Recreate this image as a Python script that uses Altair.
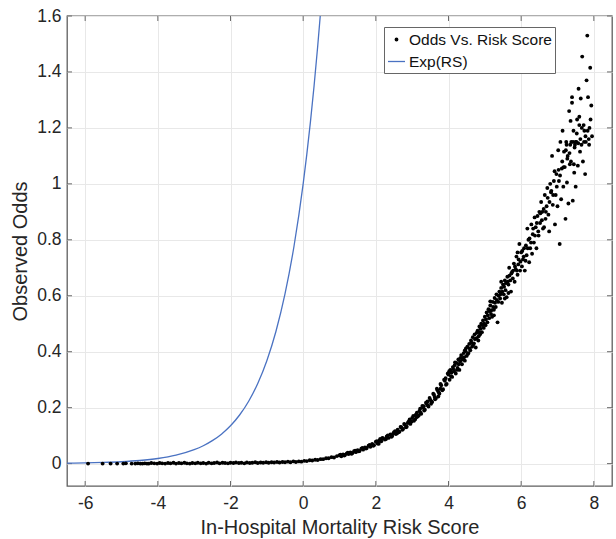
import altair as alt
import pandas as pd

# ---- data ----
odds_x = [
    -5.92, -5.52, -5.30, -5.12, -4.95, -4.88, -4.72, -4.62, -4.55, -4.48, -4.42, -4.36, -4.30,
    -4.25, -4.18, -4.10, -4.02, -3.95, -3.88, -3.80, -3.72, -3.65, -3.57, -3.50, -3.42, -3.35,
    -3.27, -3.20, -3.12, -3.05, -2.97, -2.90, -2.82, -2.75, -2.67, -2.60, -2.52, -2.45, -2.37,
    -2.30, -2.22, -2.15, -2.07, -2.00, -1.92, -1.85, -1.77, -1.70, -1.62, -1.55, -1.47, -1.40,
    -1.32, -1.25, -1.17, -1.10, -1.02, -0.95, -0.87, -0.80, -0.72, -0.65, -0.57, -0.50, -0.42,
    -0.35, -0.27, -0.20, -0.12, -0.05, 0.03, 0.10, 0.18, 0.25, 0.33, 0.40, 0.48, 0.55, 0.63,
    0.70, 0.78, 0.85, 0.93,
    1.00, 1.05, 1.10, 1.15, 1.20, 1.25, 1.30, 1.35, 1.40, 1.45, 1.50, 1.55, 1.60, 1.65, 1.70,
    1.75, 1.80, 1.85, 1.90, 1.95, 2.00, 2.05, 2.10, 2.15, 2.20, 2.25, 2.30, 2.35, 2.40, 2.45,
    2.50, 2.55, 2.60, 2.65, 2.70, 2.75, 2.80, 2.85, 2.90, 2.95, 3.00, 3.05, 3.10, 3.15, 3.20,
    3.25, 3.30, 3.35, 3.40, 3.45, 3.50, 3.55, 3.60, 3.65, 3.70, 3.75, 3.80, 3.85, 3.90, 3.95,
    2.12, 2.62, 2.88, 3.18, 3.42, 3.62, 3.78, 3.92, 3.22, 2.48,
    4.00, 4.03, 4.05, 4.08, 4.10, 4.12, 4.15, 4.17, 4.20, 4.22, 4.25, 4.27, 4.30, 4.32, 4.35,
    4.37, 4.40, 4.42, 4.45, 4.47, 4.50, 4.52, 4.55, 4.57, 4.60, 4.62, 4.65, 4.67, 4.70, 4.72,
    4.75, 4.77, 4.80, 4.82, 4.85, 4.87, 4.90, 4.92, 4.95, 4.97, 5.00, 5.02, 5.05, 5.07, 5.10,
    5.12, 5.15, 5.17, 5.20, 5.22, 5.25, 5.27, 5.30, 5.32, 5.35, 5.37, 5.40, 5.42, 5.45, 5.47,
    5.50, 5.52, 5.55, 5.57, 5.60, 5.62, 5.65, 5.67, 5.70, 5.72, 5.75, 5.77, 5.80, 5.82, 5.85,
    5.87, 5.90, 5.92, 5.95, 5.97,
    6.00, 6.02, 6.05, 6.08, 6.10, 6.13, 6.15, 6.17, 6.20, 6.22, 6.25, 6.28, 6.30, 6.32, 6.35,
    6.37, 6.40, 6.42, 6.45, 6.48, 6.50, 6.52, 6.55, 6.58, 6.60, 6.63, 6.65, 6.67, 6.70, 6.72,
    6.75, 6.77, 6.80, 6.82, 6.85, 6.87, 6.90, 6.93, 6.95, 6.97, 7.00, 7.02, 7.04, 7.06, 7.08,
    7.10, 7.12, 7.14, 7.16, 7.18, 7.20, 7.22, 7.24, 7.26, 7.28, 7.30, 7.32, 7.34, 7.36, 7.38,
    7.40, 7.42, 7.44, 7.46, 7.48, 7.50, 7.52, 7.54, 7.56, 7.58, 7.60, 7.62, 7.64, 7.66, 7.68,
    7.70, 7.72, 7.74, 7.76, 7.78, 7.80, 7.82, 7.84, 7.86, 7.88, 7.90, 7.93, 7.95, 7.60, 7.40,
    7.35, 7.25, 7.50,
]
odds_y = [
    0.000, 0.000, 0.000, 0.000, 0.000, 0.001, 0.000, 0.000, 0.001, 0.000, 0.000, 0.001, 0.000,
    0.000, 0.002, 0.001, 0.000, 0.002, 0.001, 0.000, 0.002, 0.001, 0.003, 0.000, 0.002, 0.001,
    0.003, 0.001, 0.000, 0.002, 0.001, 0.003, 0.001, 0.002, 0.000, 0.003, 0.001, 0.002, 0.004,
    0.001, 0.003, 0.002, 0.001, 0.003, 0.002, 0.004, 0.002, 0.003, 0.001, 0.004, 0.002, 0.003,
    0.005, 0.002, 0.004, 0.003, 0.005, 0.003, 0.005, 0.004, 0.006, 0.004, 0.006, 0.005, 0.007,
    0.005, 0.008, 0.006, 0.008, 0.007, 0.010, 0.009, 0.012, 0.011, 0.014, 0.013, 0.016, 0.016,
    0.019, 0.019, 0.023, 0.022, 0.027,
    0.030, 0.026, 0.033, 0.031, 0.036, 0.034, 0.040, 0.037, 0.044, 0.041, 0.048, 0.045, 0.053,
    0.050, 0.058, 0.056, 0.064, 0.060, 0.070, 0.066, 0.078, 0.072, 0.083, 0.080, 0.090, 0.086,
    0.097, 0.092, 0.104, 0.099, 0.112, 0.106, 0.121, 0.114, 0.130, 0.124, 0.139, 0.132, 0.150,
    0.142, 0.163, 0.153, 0.175, 0.168, 0.188, 0.178, 0.200, 0.193, 0.214, 0.204, 0.228, 0.220,
    0.246, 0.233, 0.262, 0.250, 0.280, 0.266, 0.296, 0.285,
    0.088, 0.112, 0.145, 0.172, 0.222, 0.238, 0.268, 0.305, 0.196, 0.108,
    0.318, 0.300, 0.335, 0.325, 0.310, 0.345, 0.330, 0.352, 0.322, 0.360, 0.342, 0.372, 0.335,
    0.365, 0.388, 0.355, 0.378, 0.395, 0.368, 0.402, 0.385, 0.418, 0.395, 0.428, 0.405, 0.440,
    0.418, 0.452, 0.430, 0.462, 0.415, 0.448, 0.475, 0.440, 0.490, 0.462, 0.500, 0.470, 0.512,
    0.485, 0.525, 0.495, 0.540, 0.505, 0.552, 0.520, 0.565, 0.535, 0.525, 0.578, 0.550, 0.592,
    0.560, 0.605, 0.505, 0.578, 0.615, 0.590, 0.628, 0.575, 0.640, 0.605, 0.655, 0.620, 0.595,
    0.668, 0.640, 0.700, 0.655, 0.615, 0.685, 0.662, 0.715, 0.650, 0.695, 0.740, 0.675, 0.712,
    0.785, 0.690,
    0.755, 0.705, 0.730, 0.770, 0.690, 0.780, 0.745, 0.840, 0.800, 0.720, 0.770, 0.855, 0.750,
    0.820, 0.790, 0.880, 0.845, 0.770, 0.885, 0.815, 0.900, 0.860, 0.935, 0.900, 0.840, 0.845,
    0.960, 0.875, 0.920, 0.985, 0.890, 0.830, 1.000, 0.970, 1.100, 0.925, 1.010, 0.855, 0.960,
    1.035, 0.920, 1.120, 1.010, 0.785, 1.150, 0.945, 1.055, 1.190, 0.990, 1.115, 1.060, 0.875,
    1.150, 1.005, 1.100, 0.930, 1.260, 1.070, 1.225, 1.150, 1.310, 0.940, 1.190, 1.040, 1.140,
    0.990, 1.150, 1.230, 1.065, 1.340, 1.240, 1.115, 1.305, 1.140, 1.455, 1.080, 1.210, 1.190,
    1.035, 1.150, 1.370, 1.530, 1.310, 1.160, 1.200, 1.415, 1.280, 1.170, 1.210, 1.290, 1.140,
    1.140, 1.150,
]
# second batch of points read from the denser parts of the cloud
extra_x = [
    1.03, 1.13, 1.23, 1.33, 1.43, 1.53, 1.63, 1.73, 1.83, 1.93, 2.03, 2.08, 2.18, 2.28, 2.33,
    2.43, 2.53, 2.58, 2.68, 2.73, 2.78, 2.83, 2.93, 2.98, 3.03, 3.08, 3.13, 3.23, 3.28, 3.33,
    3.38, 3.43, 3.48, 3.53, 3.58, 3.63, 3.68, 3.73, 3.78, 3.83, 3.88, 3.93, 3.98, 3.72, 3.52,
    3.32, 3.12,
    4.02, 4.07, 4.13, 4.18, 4.23, 4.28, 4.33, 4.38, 4.43, 4.48, 4.53, 4.58, 4.63, 4.68, 4.73,
    4.78, 4.83, 4.88, 4.93, 4.98, 5.03, 5.08, 5.13, 5.18, 5.23, 5.28, 5.33, 5.38, 5.43, 5.48,
    5.53, 5.58, 5.63, 5.68, 5.73, 5.78, 5.83, 5.88, 5.93, 5.98, 4.45, 4.85, 5.15, 5.45, 5.65,
    5.90, 5.55, 5.25,
    6.03, 6.07, 6.12, 6.18, 6.23, 6.27, 6.33, 6.38, 6.43, 6.47, 6.53, 6.57, 6.62, 6.68, 6.73,
    6.78, 6.83, 6.88, 6.92, 6.98, 7.03, 7.07, 7.13, 7.17, 7.23, 7.27, 7.33, 7.37, 7.43, 7.47,
    7.53, 7.57, 7.63, 7.67, 7.73, 7.77, 7.83, 7.87, 7.91, 7.45,
]
extra_y = [
    0.032, 0.029, 0.039, 0.035, 0.046, 0.044, 0.056, 0.054, 0.067, 0.064, 0.080, 0.071, 0.092,
    0.088, 0.101, 0.096, 0.116, 0.108, 0.131, 0.121, 0.142, 0.130, 0.158, 0.150, 0.170, 0.158,
    0.182, 0.182, 0.206, 0.190, 0.218, 0.208, 0.235, 0.222, 0.250, 0.230, 0.268, 0.255, 0.285,
    0.262, 0.300, 0.282, 0.322, 0.240, 0.214, 0.205, 0.166,
    0.330, 0.312, 0.338, 0.362, 0.335, 0.355, 0.378, 0.372, 0.380, 0.412, 0.392, 0.412, 0.432,
    0.425, 0.445, 0.468, 0.455, 0.482, 0.495, 0.500, 0.515, 0.530, 0.545, 0.548, 0.560, 0.575,
    0.585, 0.600, 0.605, 0.615, 0.632, 0.645, 0.650, 0.672, 0.680, 0.690, 0.705, 0.690, 0.730,
    0.722, 0.405, 0.470, 0.580, 0.650, 0.610, 0.755, 0.590, 0.530,
    0.760, 0.740, 0.725, 0.770, 0.805, 0.790, 0.840, 0.815, 0.860, 0.830, 0.895, 0.870, 0.910,
    0.900, 0.950, 0.935, 0.975, 0.960, 1.045, 0.990, 1.050, 1.030, 1.080, 1.060, 1.120, 1.090,
    1.110, 1.080, 1.150, 1.130, 1.180, 1.145, 1.160, 1.200, 1.150, 1.170, 1.190, 1.140, 1.230,
    1.070,
]
exp_x = [-6.5, -6.0, -5.5, -5.0, -4.5, -4.0, -3.5, -3.0, -2.75, -2.5, -2.25, -2.0, -1.75,
         -1.5, -1.25, -1.0, -0.75, -0.5, -0.25, 0.0, 0.1, 0.2, 0.3, 0.4, 0.47]
exp_y = [0.0015, 0.0025, 0.0041, 0.0067, 0.0111, 0.0183, 0.0302, 0.0498, 0.0639, 0.0821,
         0.1054, 0.1353, 0.1738, 0.2231, 0.2865, 0.3679, 0.4724, 0.6065, 0.7788, 1.0,
         1.1052, 1.2214, 1.3499, 1.4918, 1.6]
x_ticks = [-6, -4, -2, 0, 2, 4, 6, 8]
y_ticks = [0, 0.2, 0.4, 0.6, 0.8, 1, 1.2, 1.4, 1.6]
series = ["Odds Vs. Risk Score", "Exp(RS)"]

pts = pd.DataFrame({"rs": odds_x + extra_x, "odds": odds_y + extra_y, "series": series[0]})
ln = pd.DataFrame({"rs": exp_x, "odds": exp_y, "series": series[1]})
xt = pd.DataFrame({"rs": x_ticks})
yt = pd.DataFrame({"odds": y_ticks})

FONT = "Liberation Sans"
W, H = 545, 470
BLUE = "#4a72c2"

xs = alt.Scale(domain=[-6.5, 8.5], nice=False, zero=False)
ys = alt.Scale(domain=[-0.08, 1.6], nice=False, zero=False)

xaxis = alt.Axis(values=x_ticks, title="In-Hospital Mortality Risk Score",
                 labelExpr="datum.value + ''", grid=True, ticks=False, tickSize=0,
                 domain=False, labelPadding=8, titlePadding=6)
yaxis = alt.Axis(values=y_ticks, title="Observed Odds",
                 labelExpr="datum.value + ''", grid=True, ticks=False, tickSize=0,
                 domain=False, labelPadding=6, titlePadding=6)

DOT = "M-0.15,0A0.15,0.15,0,1,1,0.15,0A0.15,0.15,0,1,1,-0.15,0Z"
legend = alt.Legend(
    orient="none", legendX=317, legendY=11, title=None,
    strokeColor="#666666", fillColor="white", padding=3,
    symbolSize=289, symbolStrokeWidth=1.3,
    symbolType=alt.ExprRef(expr="datum.value === 'Exp(RS)' ? 'stroke' : '" + DOT + "'"),
    labelFontSize=15.5, labelFont=FONT, labelColor="#111111",
    labelOffset=3, rowPadding=4,
)

color = alt.Color("series:N", scale=alt.Scale(domain=series, range=["#000000", BLUE]),
                  legend=legend)

line = alt.Chart(ln).mark_line(strokeWidth=1.3, interpolate="monotone", clip=True).encode(
    x=alt.X("rs:Q", scale=xs, axis=xaxis),
    y=alt.Y("odds:Q", scale=ys, axis=yaxis),
    color=color,
)
points = alt.Chart(pts).mark_circle(size=15, opacity=1).encode(
    x=alt.X("rs:Q", scale=xs, axis=xaxis),
    y=alt.Y("odds:Q", scale=ys, axis=yaxis),
    color=color,
)
tick_col = "#6a6a6a"
xb = alt.Chart(xt).mark_rule(color=tick_col).encode(
    x=alt.X("rs:Q", scale=xs, axis=xaxis), y=alt.value(H), y2=alt.value(H - 5))
xtop = alt.Chart(xt).mark_rule(color=tick_col).encode(
    x=alt.X("rs:Q", scale=xs, axis=xaxis), y=alt.value(0), y2=alt.value(5))
yl = alt.Chart(yt).mark_rule(color=tick_col).encode(
    y=alt.Y("odds:Q", scale=ys, axis=yaxis), x=alt.value(0), x2=alt.value(5))
yr = alt.Chart(yt).mark_rule(color=tick_col).encode(
    y=alt.Y("odds:Q", scale=ys, axis=yaxis), x=alt.value(W - 5), x2=alt.value(W))

chart = alt.layer(xb, xtop, yl, yr, line, points).properties(
    width=W, height=H,
    autosize=alt.AutoSizeParams(type="none"),
    padding={"left": 67, "top": 16, "right": 4, "bottom": 53},
    background="white",
).configure_view(
    stroke="#5f5f5f", strokeWidth=1.3
).configure_axis(
    labelFont=FONT, titleFont=FONT, labelFontSize=17.5, titleFontSize=20,
    labelColor="#262626", titleColor="#262626", titleFontWeight="normal",
    gridColor="#e8e8e8", gridWidth=1,
)

chart.save("out.html", embed_options={"renderer": "svg", "actions": False})
